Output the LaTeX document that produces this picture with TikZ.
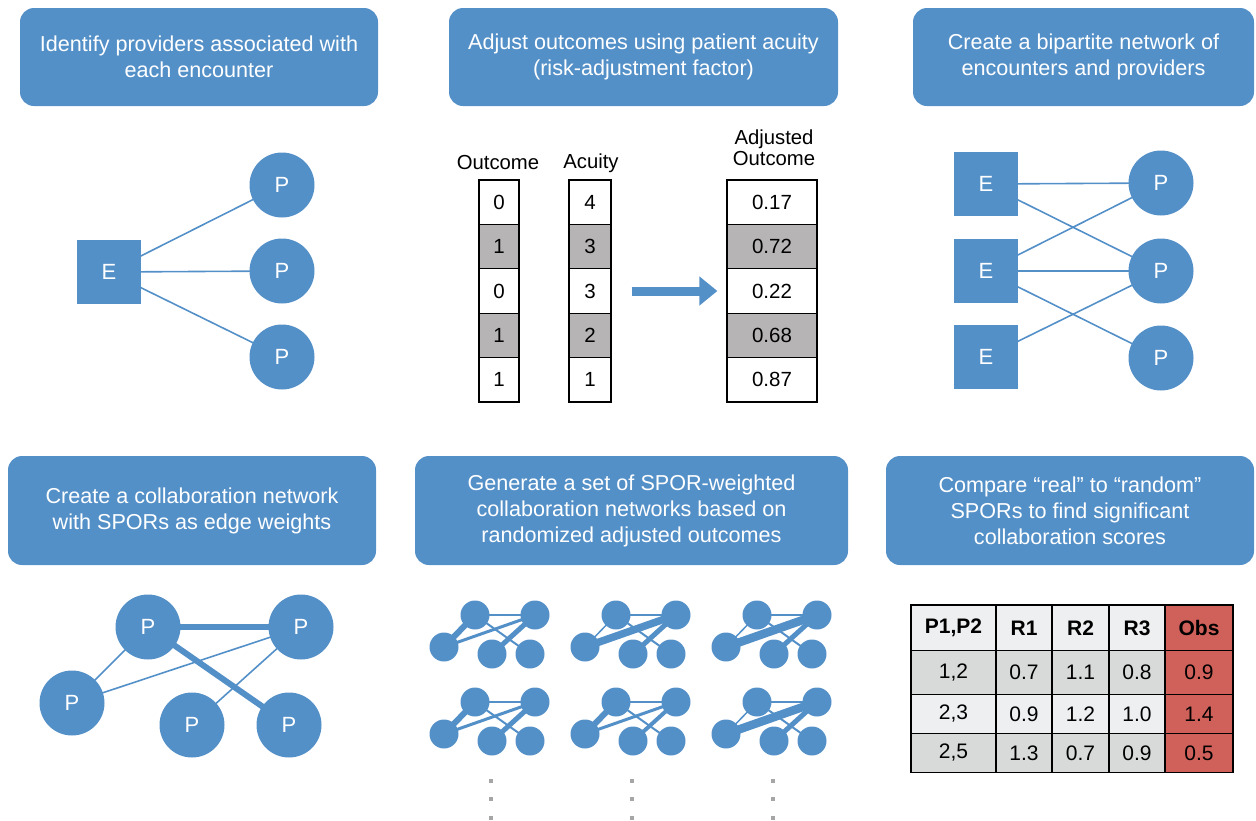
\documentclass[tikz,border=0pt]{standalone}
\usepackage{fontspec}
\setmainfont{Liberation Sans}
\usetikzlibrary{arrows.meta,backgrounds}
\definecolor{blu}{HTML}{5490C8}
\definecolor{cellgray}{HTML}{B6B4B4}
\definecolor{tlight}{HTML}{EDEFF1}
\definecolor{tgray}{HTML}{D8D9D9}
\definecolor{tred}{HTML}{D0605A}
\definecolor{dotgray}{HTML}{A6A6A6}
\newcommand\hdrfont{\fontsize{21.6}{26}\selectfont}
\newcommand\colfont{\fontsize{20.3}{23}\selectfont}
\newcommand\numfont{\fontsize{20.5}{22}\selectfont}
\newcommand\tabfnt{\fontsize{21}{24}\selectfont}
\newcommand\lblfont{\fontsize{22}{24}\selectfont}
\begin{document}
\begin{tikzpicture}[x=1pt,y=-1pt,
  hdr/.style={fill=blu, rounded corners=14pt, text=white, align=center, font=\hdrfont, inner sep=0pt},
  ebox/.style={fill=blu, minimum size=64pt, text=white, font=\lblfont, inner sep=0pt},
  pbig/.style={circle, fill=blu, minimum size=65pt, text=white, font=\lblfont, inner sep=0pt},
  psmall/.style={circle, fill=blu, minimum size=29pt, inner sep=0pt},
  link/.style={draw=blu, line width=1.6pt},
  acell/.style n args={3}{draw=black, line width=1.2pt, fill=#3, minimum width=#1, minimum height=#2, inner sep=0pt, font=\numfont},
  tc/.style n args={3}{draw=black, line width=1.4pt, fill=#3, minimum width=#1, minimum height=#2, inner sep=0pt, font=\tabfnt},
  colhdr/.style={font=\colfont, align=center, inner sep=0pt}
]
\useasboundingbox (0,0) rectangle (1256,820);

% ---------------- header boxes ----------------
\node[hdr, minimum width=358pt, minimum height=98pt] (h1) at (199,57) {Identify providers associated with\\each encounter};
\node[hdr, minimum width=389pt, minimum height=98pt] (h2) at (643.5,57) {Adjust outcomes using patient acuity\\(risk-adjustment factor)};
\node[hdr, minimum width=341pt, minimum height=98pt] (h3) at (1083.5,57) {Create a bipartite network of\\encounters and providers};
\node[hdr, minimum width=368pt, minimum height=109pt] (h4) at (192,510.5) {Create a collaboration network\\with SPORs as edge weights};
\node[hdr, minimum width=433pt, minimum height=109pt] (h5) at (631.5,510.5) {Generate a set of SPOR-weighted\\collaboration networks based on\\randomized adjusted outcomes};
\node[hdr, minimum width=368pt, minimum height=109pt] (h6) at (1070,510.5) {Compare “real” to “random”\\SPORs to find significant\\collaboration scores};

% ---------------- panel 1 ----------------
\node[ebox] (e0) at (109,272) {E};
\node[pbig] (p01) at (282,185) {P};
\node[pbig] (p02) at (282,271) {P};
\node[pbig] (p03) at (282,357) {P};
\begin{scope}[on background layer]
\draw[link] (e0.center) -- (p01.center);
\draw[link] (e0.center) -- (p02.center);
\draw[link] (e0.center) -- (p03.center);
\end{scope}

% ---------------- panel 2 ----------------
\node[colhdr] (ho) at (498,163) {Outcome};
\node[colhdr] (ha) at (591,163) {Acuity};
\node[colhdr] (hj) at (774,148) {Adjusted\\[-2pt]Outcome};
\foreach \r/\o/\a/\j/\f in {1/0/4/0.17/white, 2/1/3/0.72/cellgray, 3/0/3/0.22/white, 4/1/2/0.68/cellgray, 5/1/1/0.87/white}{
  \pgfmathsetmacro\yy{180+44.4*(\r-0.5)}
  \node[acell={40pt}{44.4pt}{\f}] (o\r) at (499,\yy) {\o};
  \node[acell={42pt}{44.4pt}{\f}] (a\r) at (590,\yy) {\a};
  \node[acell={90pt}{44.4pt}{\f}] (j\r) at (772,\yy) {\j};
}
\draw[blu, line width=9pt, -{Triangle[length=18pt,width=28pt]}] ([xshift=20pt]a3.east) -- ([xshift=-9pt]j3.west);

% ---------------- panel 3 ----------------
\node[ebox] (e1) at (986,184) {E};
\node[ebox] (e2) at (986,271) {E};
\node[ebox] (e3) at (986,357) {E};
\node[pbig] (q1) at (1161,183) {P};
\node[pbig] (q2) at (1161,271) {P};
\node[pbig] (q3) at (1161,358) {P};
\begin{scope}[on background layer]
\draw[link] (e1.center) -- (q1.center);
\draw[link] (e1.center) -- (q2.center);
\draw[link] (e2.center) -- (q1.center);
\draw[link] (e2.center) -- (q2.center);
\draw[link] (e2.center) -- (q3.center);
\draw[link] (e3.center) -- (q2.center);
\end{scope}

% ---------------- panel 4 ----------------
\node[pbig] (c1) at (148,627) {P};
\node[pbig] (c2) at (301,627) {P};
\node[pbig] (c3) at (72,703) {P};
\node[pbig] (c4) at (192,725) {P};
\node[pbig] (c5) at (289,725) {P};
\begin{scope}[on background layer]
\draw[draw=blu, line width=6pt] (c1.center) -- (c2.center);
\draw[draw=blu, line width=6pt] (c1.center) -- (c5.center);
\draw[link] (c1.center) -- (c3.center);
\draw[link] (c2.center) -- (c3.center);
\draw[link] (c2.center) -- (c4.center);
\end{scope}

% ---------------- panel 5 ----------------
\foreach \i/\ox/\oy/\wac/\wbc/\wbd/\wab in {1/0/0/6/3/5/2, 2/141/0/1.5/7.5/5/2, 3/282/0/1.5/8.5/5/2, 4/0/87/6/3/5/2.5, 5/141/87/6/3/4/2.5, 6/282/87/1.5/8.5/5/2}{
  \node[psmall] (A\i) at (475+\ox,615+\oy) {};
  \node[psmall] (B\i) at (535+\ox,615+\oy) {};
  \node[psmall] (C\i) at (444+\ox,647+\oy) {};
  \node[psmall] (D\i) at (492+\ox,654+\oy) {};
  \node[psmall] (E\i) at (530+\ox,654+\oy) {};
  \begin{scope}[on background layer]
  \draw[draw=blu, line width=\wac pt] (A\i.center) -- (C\i.center);
  \draw[draw=blu, line width=\wab pt] (A\i.center) -- (B\i.center);
  \draw[draw=blu, line width=\wbc pt] (B\i.center) -- (C\i.center);
  \draw[draw=blu, line width=2pt] (A\i.center) -- (E\i.center);
  \draw[draw=blu, line width=\wbd pt] (B\i.center) -- (D\i.center);
  \end{scope}
}
\foreach \x in {491,632,773}{
  \foreach \y in {781,799,818}{
    \fill[dotgray] (\x-2,\y-2) rectangle (\x+2,\y+2);
  }
}

% ---------------- panel 6 ----------------
% header row
\node[tc={85pt}{46pt}{tlight}, font=\tabfnt\bfseries] (t00) at (953.5,628) {P1,P2};
\node[tc={56pt}{46pt}{tlight}, font=\tabfnt\bfseries] (t01) at (1024,628) {R1};
\node[tc={57pt}{46pt}{tlight}, font=\tabfnt\bfseries] (t02) at (1080.5,628) {R2};
\node[tc={56pt}{46pt}{tlight}, font=\tabfnt\bfseries] (t03) at (1137,628) {R3};
\node[tc={68pt}{46pt}{tred}, font=\tabfnt\bfseries] (t04) at (1199,628) {Obs};
% row 1
\node[tc={85pt}{43.5pt}{tgray}] (t10) at (953.5,672.5) {1,2};
\node[tc={56pt}{43.5pt}{tgray}] (t11) at (1024,672.5) {0.7};
\node[tc={57pt}{43.5pt}{tgray}] (t12) at (1080.5,672.5) {1.1};
\node[tc={56pt}{43.5pt}{tgray}] (t13) at (1137,672.5) {0.8};
\node[tc={68pt}{43.5pt}{tred}] (t14) at (1199,672.5) {0.9};
% row 2
\node[tc={85pt}{39pt}{tlight}] (t20) at (953.5,713.8) {2,3};
\node[tc={56pt}{39pt}{tlight}] (t21) at (1024,713.8) {0.9};
\node[tc={57pt}{39pt}{tlight}] (t22) at (1080.5,713.8) {1.2};
\node[tc={56pt}{39pt}{tlight}] (t23) at (1137,713.8) {1.0};
\node[tc={68pt}{39pt}{tred}] (t24) at (1199,713.8) {1.4};
% row 3
\node[tc={85pt}{39pt}{tgray}] (t30) at (953.5,752.8) {2,5};
\node[tc={56pt}{39pt}{tgray}] (t31) at (1024,752.8) {1.3};
\node[tc={57pt}{39pt}{tgray}] (t32) at (1080.5,752.8) {0.7};
\node[tc={56pt}{39pt}{tgray}] (t33) at (1137,752.8) {0.9};
\node[tc={68pt}{39pt}{tred}] (t34) at (1199,752.8) {0.5};
\end{tikzpicture}
\end{document}
